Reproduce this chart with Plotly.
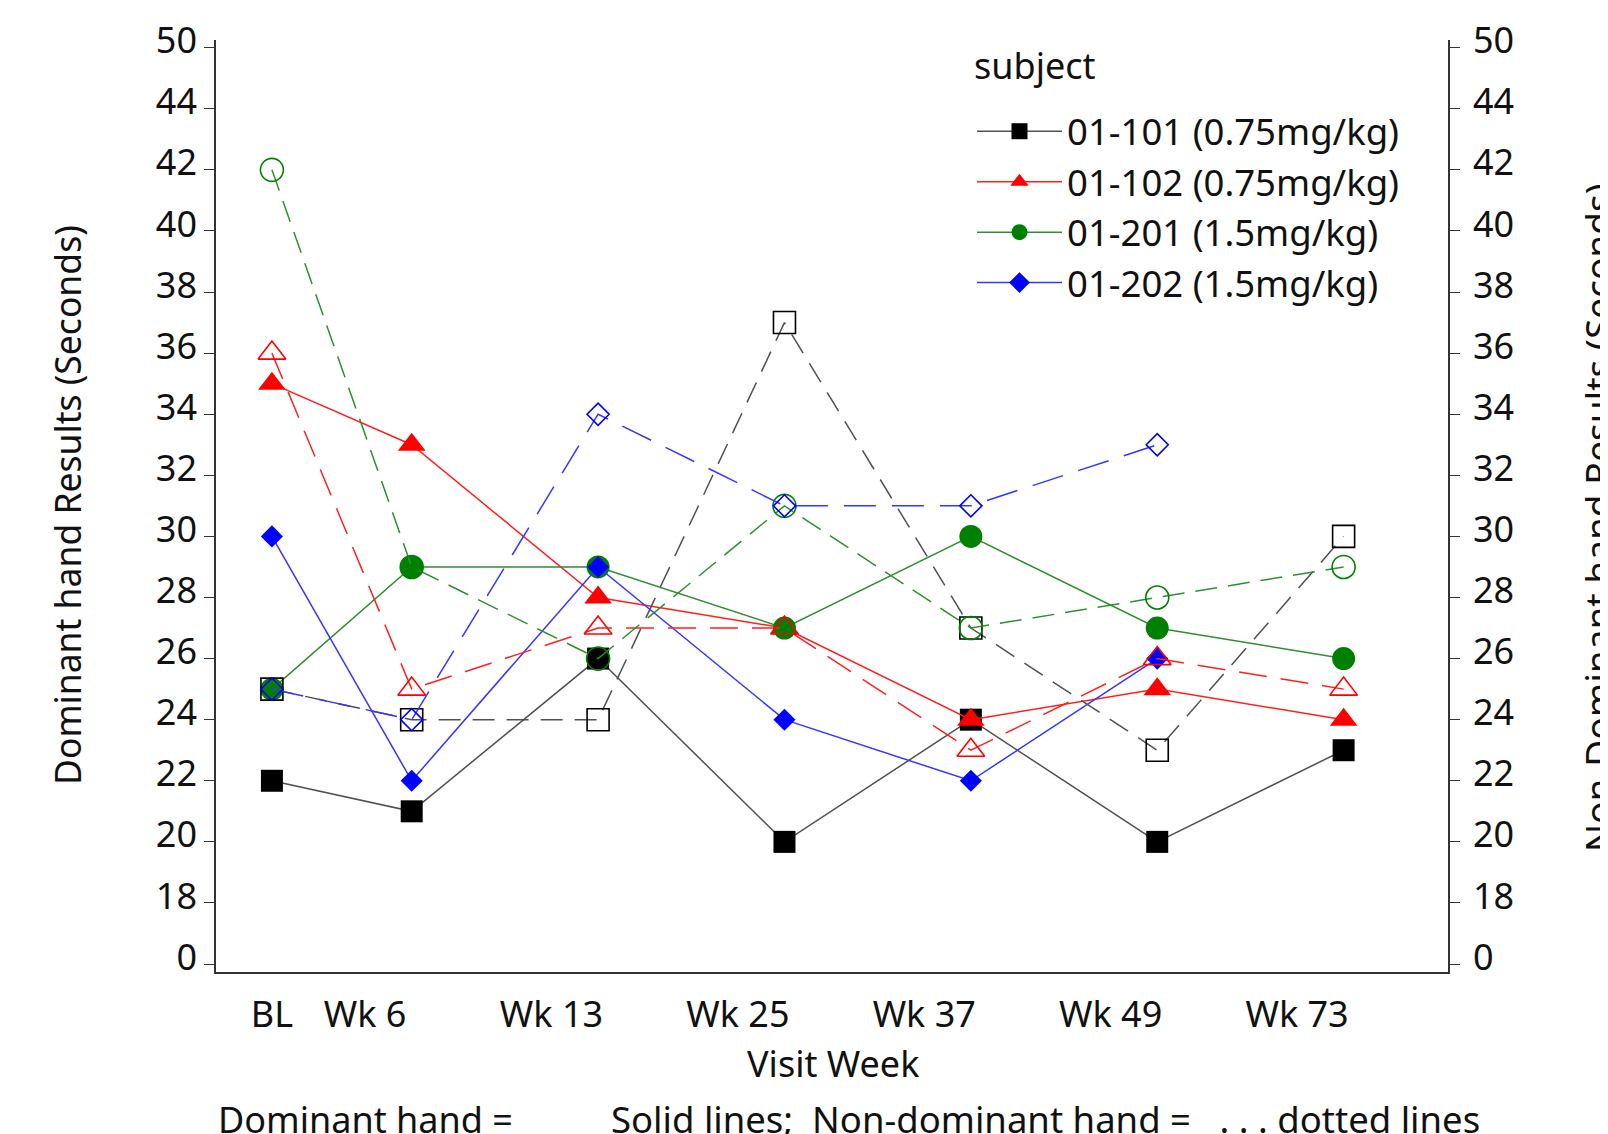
import plotly.graph_objects as go

# ---- data ----
visits = ["BL", "Wk 6", "Wk 13", "Wk 25", "Wk 37", "Wk 49", "Wk 73"]
visit_pos = [0, 0.75, 1.75, 2.75, 3.75, 4.75, 5.75]      # where the visits are plotted
visit_label_pos = [0, 0.5, 1.5, 2.5, 3.5, 4.5, 5.5]       # where the tick labels sit

subjects = ["01-101 (0.75mg/kg)", "01-102 (0.75mg/kg)", "01-201 (1.5mg/kg)", "01-202 (1.5mg/kg)"]

dominant_101 = [22, 21, 26, 20, 24, 20, 23]
dominant_102 = [35, 33, 28, 27, 24, 25, 24]
dominant_201 = [25, 29, 29, 27, 30, 27, 26]
dominant_202 = [30, 22, 29, 24, 22, 26, None]

nondominant_101 = [25, 24, 24, 37, 27, 23, 30]
nondominant_102 = [36, 25, 27, 27, 23, 26, 25]
nondominant_201 = [42, 29, 26, 31, 27, 28, 29]
nondominant_202 = [25, 24, 34, 31, 31, 33, None]

# broken y axis: "0" and "50" are drawn one step beyond 18 and 44
y_tick_vals = [16, 18, 20, 22, 24, 26, 28, 30, 32, 34, 36, 38, 40, 42, 44, 46]
y_tick_text = ["0", "18", "20", "22", "24", "26", "28", "30", "32", "34", "36", "38", "40", "42", "44", "50"]

# ---- styles ----
colors = ["#000000", "#ff0000", "#008000", "#0000ff"]
line_colors = ["#505050", "#ff2020", "#2f8f2f", "#3535ff"]
filled_symbols = ["square", "triangle-up", "circle", "diamond"]
open_symbols = ["square-open", "triangle-up-open", "circle-open", "diamond-open"]
sizes = [22, 24, 23, 17]
dashes = ["22px,12px", "28px,14px", "22px,11px", "32px,16px"]

dominant = [dominant_101, dominant_102, dominant_201, dominant_202]
nondominant = [nondominant_101, nondominant_102, nondominant_201, nondominant_202]

FONT = "Noto Sans"
OFF = 8                      # page body margin
W, H = 1608 - OFF, 1134 - OFF
PL, PR, PT, PB = 216, 1448, 40, 972   # plot area in page pixels
L, R, T, B = PL - OFF, 1608 - PR, PT - OFF, 1134 - PB
PW, PH = PR - PL, PB - PT


def px(x):
    return (x - PL) / PW


def py(y):
    return (PB - y) / PH


fig = go.Figure()

for i in range(4):
    fig.add_trace(go.Scatter(
        x=visit_pos, y=dominant[i], mode="lines+markers", name=subjects[i],
        line=dict(color=line_colors[i], width=1.5),
        marker=dict(symbol=filled_symbols[i], size=sizes[i], color=colors[i], line=dict(width=0)),
        showlegend=True, yaxis="y", connectgaps=False,
    ))

for i in range(4):
    fig.add_trace(go.Scatter(
        x=visit_pos, y=nondominant[i], mode="lines+markers", name=subjects[i] + " non-dominant",
        line=dict(color=line_colors[i], width=1.5, dash=dashes[i]),
        marker=dict(symbol=open_symbols[i], size=sizes[i], color=colors[i],
                    line=dict(width=1.6, color=colors[i])),
        showlegend=False, yaxis="y2",
    ))

yrange = [15.74, 46.25]
axis_font = dict(family=FONT, size=36, color="#111111")

fig.update_layout(
    width=W, height=H,
    margin=dict(l=L, r=R, t=T, b=B, autoexpand=False),
    paper_bgcolor="white", plot_bgcolor="white",
    font=dict(family=FONT, color="#111111"),
    xaxis=dict(
        range=[-0.3, 6.31], tickmode="array", tickvals=visit_label_pos, ticktext=visits,
        showgrid=False, zeroline=False, showline=True, linecolor="#333333", linewidth=2,
        ticks="", tickfont=axis_font, ticklabelstandoff=10,
    ),
    yaxis=dict(
        range=yrange, tickmode="array", tickvals=y_tick_vals, ticktext=y_tick_text,
        showgrid=False, zeroline=False, showline=True, linecolor="#333333", linewidth=1.5,
        ticks="outside", ticklen=10, tickcolor="#333333", tickwidth=1.2,
        tickfont=axis_font, ticklabelstandoff=0, ticklabelshift=-7,
    ),
    yaxis2=dict(
        range=yrange, tickmode="array", tickvals=y_tick_vals, ticktext=y_tick_text,
        overlaying="y", side="right",
        showgrid=False, zeroline=False, showline=True, linecolor="#333333", linewidth=1.5,
        ticks="outside", ticklen=10, tickcolor="#333333", tickwidth=1.2,
        tickfont=axis_font, ticklabelstandoff=6, ticklabelshift=-7,
    ),
    legend=dict(
        x=px(972), y=py(101), xanchor="left", yanchor="top",
        font=dict(family=FONT, size=36.5, color="#111111"),
        bgcolor="rgba(0,0,0,0)", itemwidth=85, tracegroupgap=0,
    ),
    showlegend=True,
)

annotations = [
    dict(text="subject", x=px(972), y=py(65), xanchor="left", yanchor="middle",
         font=dict(family=FONT, size=36, color="#111111")),
    dict(text="Dominant hand Results (Seconds)", x=px(67), y=py(505), textangle=-90,
         xanchor="center", yanchor="middle", font=dict(family=FONT, size=35.5, color="#111111")),
    dict(text="Non-Dominant hand Results (Seconds)", x=px(1597), y=py(518), textangle=-90,
         xanchor="center", yanchor="middle", font=dict(family=FONT, size=37, color="#111111")),
    dict(text="Visit Week", x=px(833), y=py(1063), xanchor="center", yanchor="middle",
         font=dict(family=FONT, size=36, color="#111111")),
    dict(text="Dominant hand =", x=px(216), y=py(1119), xanchor="left", yanchor="middle",
         font=dict(family=FONT, size=36, color="#111111")),
    dict(text="Solid lines;\u00a0 Non-dominant hand =\u00a0\u00a0 . . . dotted lines", x=px(609), y=py(1119),
         xanchor="left", yanchor="middle", font=dict(family=FONT, size=36.5, color="#111111")),
]
for a in annotations:
    a.update(xref="paper", yref="paper", showarrow=False)
fig.update_layout(annotations=annotations)

fig.write_html("out.html")
